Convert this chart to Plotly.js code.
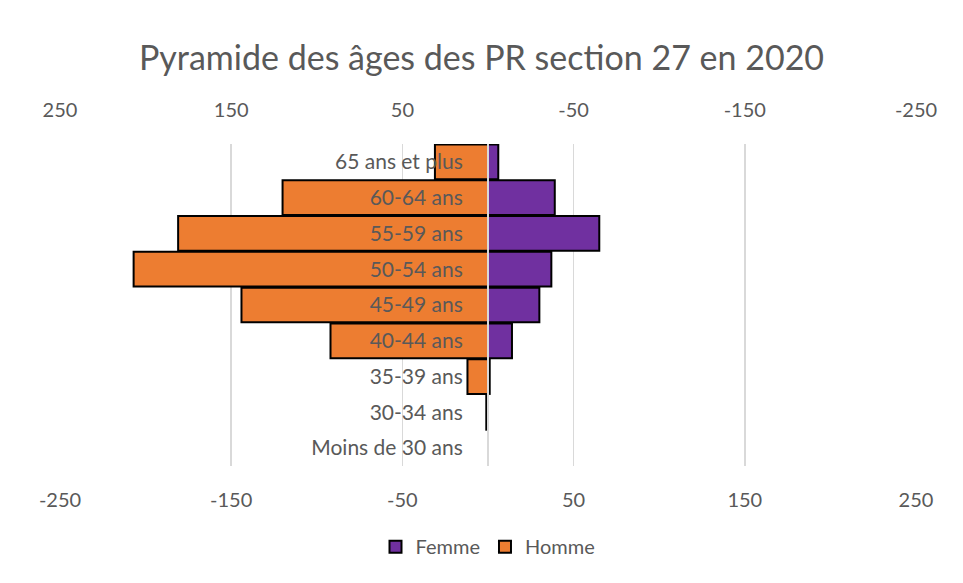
<!DOCTYPE html>
<html>
<head>
<meta charset="utf-8">
<script src="https://cdn.plot.ly/plotly-3.0.1.min.js"></script>
<style>html,body{margin:0;padding:0;background:#fff;}#chart{width:963px;height:583px;}</style>
</head>
<body>
<div id="chart"></div>
<script>
var categories = ["Moins de 30 ans", "30-34 ans", "35-39 ans", "40-44 ans", "45-49 ans", "50-54 ans", "55-59 ans", "60-64 ans", "65 ans et plus"];
var femme = [0, 0, 1, 14, 30, 37, 65, 39, 6];
var homme = [0, 1, 12, 92, 144, 207, 181, 120, 31];
var tickVals = [-250, -150, -50, 50, 150, 250];
var tickLabels = ["-250", "-150", "-50", "50", "150", "250"];

var font = "Lato, 'Open Sans', sans-serif";
var gray = "#595959";

var traces = [
  {
    type: "bar", orientation: "h", name: "Femme",
    y: categories, x: femme, xaxis: "x", yaxis: "y",
    marker: {color: "#7030a0", line: {color: "#000000", width: 2}},
    hoverinfo: "x+y"
  },
  {
    type: "bar", orientation: "h", name: "Homme",
    y: categories, x: homme, xaxis: "x2", yaxis: "y",
    marker: {color: "#ed7d31", line: {color: "#000000", width: 2}},
    hoverinfo: "x+y"
  }
];

var layout = {
  width: 963, height: 583,
  margin: {l: 60, r: 47, t: 144, b: 117},
  paper_bgcolor: "#ffffff", plot_bgcolor: "#ffffff",
  font: {family: font, color: gray, size: 20},
  title: {text: "Pyramide des âges des PR section 27 en 2020", x: 0.5, xanchor: "center", y: 0.9, yanchor: "middle",
          font: {family: font, size: 34, color: gray}},
  bargap: 0.03,
  showlegend: true,
  legend: {orientation: "h", x: 0.5, xanchor: "center", y: -0.19, yanchor: "top",
           font: {family: font, size: 20, color: gray}, traceorder: "normal", itemwidth: 30},
  xaxis: {
    range: [-250, 250], tickmode: "array", tickvals: tickVals, ticktext: tickLabels,
    showgrid: true, gridcolor: "#d9d9d9", gridwidth: 1.5, zeroline: false,
    ticks: "outside", ticklen: 16, tickcolor: "rgba(0,0,0,0)",
    tickfont: {family: font, size: 20, color: gray}, showline: false
  },
  xaxis2: {
    overlaying: "x", side: "top", range: [250, -250], tickmode: "array", tickvals: tickVals, ticktext: tickLabels,
    showgrid: false, zeroline: false,
    ticks: "outside", ticklen: 18, tickcolor: "rgba(0,0,0,0)",
    tickfont: {family: font, size: 20, color: gray}, showline: false
  },
  yaxis: {
    type: "category", anchor: "free", position: 0.5, side: "left",
    showline: true, linecolor: "#d9d9d9", linewidth: 2,
    showgrid: false, zeroline: false,
    ticks: "outside", ticklen: 20, tickcolor: "rgba(0,0,0,0)",
    tickfont: {family: font, size: 21, color: gray},
    layer: "above traces"
  }
};

Plotly.newPlot("chart", traces, layout, {displayModeBar: false, staticPlot: true});
</script>
</body>
</html>
